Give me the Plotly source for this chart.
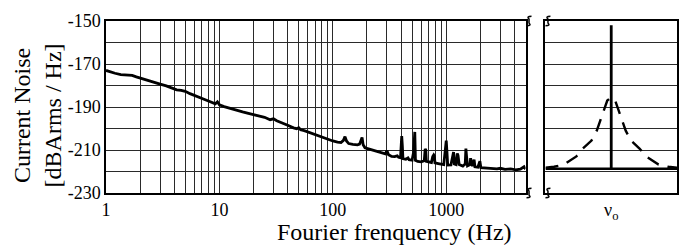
import plotly.graph_objects as go

# ---- data: main noise spectrum ----
freq_hz = [1.0, 1.1, 1.2, 1.35, 1.5, 1.7, 1.85, 2.0, 2.3, 2.6, 3.0, 3.4, 3.8, 4.2, 4.6, 5.0,
           5.5, 6.0, 6.5, 7.0, 7.5, 8.0, 8.5, 9.2, 9.6, 10, 11, 12, 13, 14, 16, 18, 20, 22,
           25, 28, 30, 32, 36, 40, 45, 48, 50, 52, 56, 60, 65, 70, 75, 80, 90, 100, 110,
           118, 124, 128, 132, 138, 150, 165, 172, 178, 181, 185, 192, 210, 230, 250, 270,
           290, 300, 310, 330, 350, 370, 380, 395, 400, 405, 410, 415, 440, 460, 470, 500,
           515, 522, 528, 535, 560, 600, 640, 652, 660, 668, 700, 740, 760, 775, 785, 795,
           850, 900, 950, 985, 1000, 1012, 1030, 1100, 1140, 1160, 1180, 1220, 1250, 1270,
           1300, 1400, 1470, 1490, 1510, 1540, 1620, 1640, 1660, 1700, 1760, 1790, 1900,
           1980, 2020, 2200, 2500, 2800, 3000, 3300, 3700, 4100, 4500, 4700, 4850, 5000]
noise_db = [-173.0, -173.8, -174.3, -174.9, -175.2, -175.3, -176.0, -176.6, -177.4, -178.5,
            -179.4, -180.2, -181.3, -182.0, -182.3, -182.7, -183.8, -184.5, -185.2, -186.0,
            -186.6, -187.2, -187.8, -188.5, -187.6, -189.0, -189.8, -190.4, -191.2, -191.6,
            -192.3, -193.0, -193.6, -193.9, -194.8, -195.9, -195.5, -196.4, -197.4, -198.5,
            -199.7, -200.1, -199.6, -200.6, -201.0, -201.6, -202.4, -202.9, -203.3, -204.0,
            -205.0, -205.8, -206.3, -206.5, -205.5, -203.8, -205.8, -207.0, -207.4, -207.6,
            -207.3, -205.5, -204.2, -207.6, -209.0, -209.6, -210.3, -210.9, -211.3, -211.8,
            -210.3, -212.2, -213.0, -213.1, -212.7, -213.4, -213.6, -208.0, -203.5, -208.0,
            -214.0, -214.3, -213.7, -214.5, -214.7, -211.0, -202.0, -201.6, -214.8, -215.3,
            -215.5, -215.0, -209.5, -210.0, -215.3, -215.6, -215.8, -213.0, -212.3, -212.8,
            -216.0, -216.3, -216.6, -216.8, -209.0, -205.6, -210.0, -217.0, -216.9, -211.5,
            -211.0, -216.5, -216.8, -211.6, -212.5, -216.8, -217.5, -216.5, -209.3, -213.0,
            -217.4, -216.8, -213.8, -215.5, -217.5, -214.5, -217.8, -218.0, -215.2, -218.2,
            -218.4, -218.6, -218.8, -218.5, -219.0, -218.8, -219.2, -218.9, -218.0, -217.8,
            -218.9]

# ---- data: carrier panel ----
carrier_x = [0, 0]
carrier_db = [-218.7, -152.0]
floor_x = [-1, 1]
floor_db = [-218.7, -218.7]
lorentz_x = [-1.0, -0.87, -0.72, -0.53, -0.43, -0.30, -0.22, -0.17, -0.06, 0.0,
             0.06, 0.17, 0.22, 0.30, 0.43, 0.53, 0.72, 0.87, 1.0]
lorentz_db = [-218.2, -217.8, -216.8, -213.0, -209.3, -205.6, -201.0, -196.6, -187.0, -185.5,
              -187.0, -196.6, -201.0, -205.6, -209.3, -213.0, -216.8, -217.8, -218.2]

# ---- ticks ----
y_tickvals = [-150, -160, -170, -180, -190, -200, -210, -220, -230]
y_ticktext = ["-150", "", "-170", "", "-190", "", "-210", "", "-230"]
x_gridvals = [m * 10 ** d for d in range(4) for m in range(1, 10) if m * 10 ** d <= 5000]
x_labels = {1: "1", 10: "10", 100: "100", 1000: "1000"}
x_ticktext = [x_labels.get(v, "") for v in x_gridvals]

W, H = 690, 246
ML, MR, MT, MB = 106, 11, 14, 53
PW, PH = W - ML - MR, H - MT - MB


def px(x):
    return (x - ML) / PW


def py(y):
    return (H - MB - y) / PH


FONT = "Liberation Serif"
GRID = "#2a2a2a"

fig = go.Figure()
fig.add_trace(go.Scatter(x=freq_hz, y=noise_db, mode="lines",
                         line=dict(color="black", width=2.8), xaxis="x", yaxis="y",
                         showlegend=False))
fig.add_trace(go.Scatter(x=floor_x, y=floor_db, mode="lines",
                         line=dict(color="black", width=2.6), xaxis="x2", yaxis="y2",
                         showlegend=False))
fig.add_trace(go.Scatter(x=carrier_x, y=carrier_db, mode="lines",
                         line=dict(color="black", width=2.8), xaxis="x2", yaxis="y2",
                         showlegend=False))
fig.add_trace(go.Scatter(x=lorentz_x, y=lorentz_db, mode="lines",
                         line=dict(color="black", width=2.4, dash="13px,9px"),
                         xaxis="x2", yaxis="y2", showlegend=False))

axis_common = dict(showline=True, mirror=True, linecolor="black", linewidth=1.5,
                   ticks="", showgrid=True, gridcolor=GRID, gridwidth=1.2, zeroline=False,
                   tickfont=dict(family=FONT, size=18, color="black"))

fig.update_layout(
    width=W, height=H,
    font=dict(family=FONT, color="black"),
    margin=dict(l=ML, r=MR, t=MT, b=MB),
    paper_bgcolor="white", plot_bgcolor="white",
    xaxis=dict(type="log", range=[0, 3.699], domain=[0, px(527)],
               tickmode="array", tickvals=x_gridvals, ticktext=x_ticktext, anchor="y",
               **axis_common),
    yaxis=dict(range=[-230, -150], tickmode="array", tickvals=y_tickvals,
               ticktext=y_ticktext, anchor="x", **axis_common),
    xaxis2=dict(range=[-1, 1], domain=[px(547), 1], anchor="y2",
                tickmode="array", tickvals=[0], ticktext=["ν<sub>o</sub>"],
                **{**axis_common, "showgrid": False}),
    yaxis2=dict(range=[-230, -150], anchor="x2", tickmode="array", tickvals=y_tickvals,
                showticklabels=False, **axis_common),
)

fig.add_annotation(text="Current Noise<br>[dBArms / Hz]", textangle=-90,
                   x=px(37), y=py(112), xref="paper", yref="paper",
                   xanchor="center", yanchor="middle", showarrow=False,
                   font=dict(family=FONT, size=24, color="black"))
fig.add_annotation(text="Fourier frenquency (Hz)",
                   x=px(396), y=py(234), xref="paper", yref="paper",
                   xanchor="center", yanchor="middle", showarrow=False,
                   font=dict(family=FONT, size=24, color="black"))

# axis-break squiggles
for cx in (530.5, 549.5):
    for cy in (14, 193):
        x0, x1 = px(cx - 2.5), px(cx + 2.5)
        xm = px(cx)
        ya, yb, yc, yd = py(cy - 5), py(cy - 2), py(cy + 2), py(cy + 5)
        path = (f"M {x1} {ya} Q {px(cx - 3)} {py(cy - 5)} {xm} {yb} "
                f"L {xm} {yc} Q {px(cx + 3)} {py(cy + 5)} {x0} {yd}")
        fig.add_shape(type="path", path=path, xref="paper", yref="paper",
                      line=dict(color="black", width=1.5))

fig.write_html("out.html",
               config={"displayModeBar": False},
               post_script="document.body.style.margin='0';"
                           "document.body.style.overflow='hidden';")
